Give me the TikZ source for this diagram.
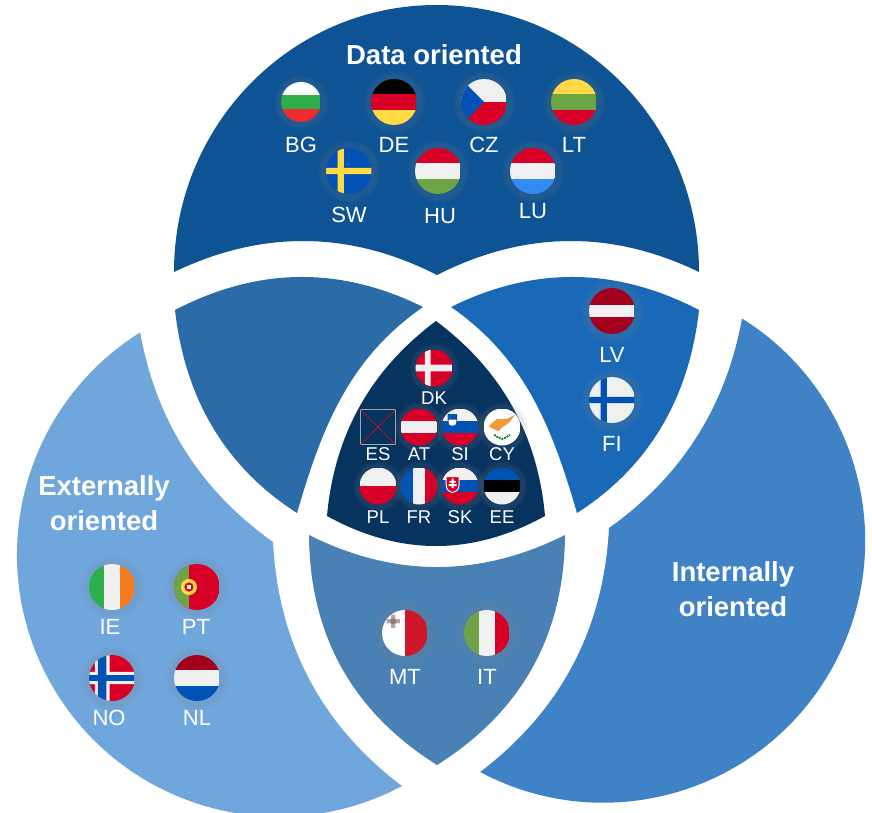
\documentclass[tikz,border=0pt]{standalone}
\usepackage{fontspec}
\setmainfont{Liberation Sans}
\usetikzlibrary{shadows}

\definecolor{topblue}{HTML}{0E5394}
\definecolor{lensleft}{HTML}{2A6BA8}
\definecolor{lensright}{HTML}{1A69B6}
\definecolor{centerblue}{HTML}{07335F}
\definecolor{leftblue}{HTML}{6FA6DC}
\definecolor{rightblue}{HTML}{3F82C6}
\definecolor{lensbottom}{HTML}{4A81B5}
\definecolor{fred}{HTML}{D80027}
\definecolor{fdark}{HTML}{A2001D}
\definecolor{fwhite}{HTML}{F0F0F0}
\definecolor{fblue}{HTML}{0052B4}
\definecolor{fsky}{HTML}{338AF3}
\definecolor{fyellow}{HTML}{FFDA44}
\definecolor{fgreen}{HTML}{6DA544}
\definecolor{bggreen}{HTML}{2DAE4A}
\definecolor{bgred}{HTML}{EE2E2E}
\definecolor{ieorange}{HTML}{F57A20}
\definecolor{mtred}{HTML}{CE1728}
\definecolor{cyorange}{HTML}{F29A3A}

\tikzset{
  flagunit/.style={shift={(path picture bounding box.center)}, x=\flagr, y=-\flagr},
  flagdisc/.style={circle, inner sep=0pt, minimum size=2*#1, /utils/exec={\def\flagr{#1}},
    circular drop shadow={shadow xshift=0pt, shadow yshift=0pt, shadow scale=1.4, opacity=0.16}},
  flagdisc/.default=23pt,
  hbars/.style n args={3}{path picture={\begin{scope}[flagunit]
    \fill[#1] (-1,-1) rectangle (1,-0.33);
    \fill[#2] (-1,-0.33) rectangle (0.97,0.33);
    \fill[#3] (-1,0.33) rectangle (1,1);
    \end{scope}}},
  vbars/.style n args={3}{path picture={\begin{scope}[flagunit]
    \fill[#1] (-1,-1) rectangle (-0.33,1);
    \fill[#2] (-0.33,-1) rectangle (0.33,1);
    \fill[#3] (0.33,-1) rectangle (0.97,1);
    \end{scope}}},
  crossed/.style n args={2}{path picture={\begin{scope}[flagunit]
    \fill[#1] (-1,-1) rectangle (0.97,1);
    \fill[#2] (-0.49,-1) rectangle (-0.22,1) (-1,-0.14) rectangle (0.97,0.14);
    \end{scope}}},
  flaglabel/.style={text=white, inner sep=0pt, font=\fontsize{22}{24}\selectfont},
  smalllabel/.style={text=white, inner sep=0pt, font=\fontsize{18.5}{20}\selectfont},
  titletext/.style={text=white, inner sep=0pt, align=center, font=\fontsize{27.5}{35}\selectfont\bfseries}
}

\begin{document}
\begin{tikzpicture}[x=1pt, y=-1pt]
  \clip (0,0) rectangle (872,813);
  \fill[white] (0,0) rectangle (872,813);

  % the seven regions
  \fill[topblue] (174,272) arc[start angle=180, end angle=360, x radius=262.5, y radius=267]
    .. controls (611.7,229.7) and (524.3,230.7) .. (437,275)
    .. controls (350,230.7) and (262.3,229.7) .. cycle;
  \fill[lensleft] (175,310) .. controls (257.7,267) and (340.3,266) .. (423,307)
    .. controls (349,358.3) and (322,427) .. (297,513)
    .. controls (225.7,467.3) and (185,399) .. cycle;
  \fill[lensright] (699,310) .. controls (616.3,267) and (533.7,266) .. (451,307)
    .. controls (525,358.3) and (552,427) .. (577,513)
    .. controls (648.3,467.3) and (689,399) .. cycle;
  \fill[centerblue] (436,321) .. controls (501.3,369.7) and (537.7,434.7) .. (545,516)
    .. controls (472.3,556) and (399.7,556) .. (327,516)
    .. controls (334.3,434.7) and (370.7,369.7) .. cycle;
  \fill[lensbottom] (309,535) .. controls (394.3,577.7) and (479.7,577.7) .. (565,535)
    .. controls (564.3,635) and (521.7,711.7) .. (437,765)
    .. controls (352.3,711.7) and (309.7,635) .. cycle;
  \fill[leftblue] (402,786) arc[start angle=62, end angle=238, radius=262]
    .. controls (156,420.5) and (200.3,490.3) .. (273,542)
    .. controls (278.3,643.3) and (321.3,725.3) .. cycle;
  \fill[rightblue] (742,318.5) arc[start angle=-58, end angle=118, radius=262]
    .. controls (560.7,710.7) and (603.7,629.3) .. (609,528)
    .. controls (681.7,476.3) and (726,406.3) .. cycle;

  % titles
  \node[titletext] (tdata) at (434,55) {Data oriented};
  \node[titletext] (text) at (104,503) {Externally\\oriented};
  \node[titletext] (tint) at (733,589) {Internally\\oriented};

  % Data oriented
  \node[flagdisc=20pt, hbars={white}{bggreen}{bgred}] (bg) at (301,102) {};
  \node[flagdisc, hbars={black}{fred}{fyellow}] (de) at (394,102) {};
  \node[flagdisc, path picture={\begin{scope}[flagunit]
      \fill[fwhite] (-1,-1) rectangle (0.97,0);
      \fill[fred] (-1,0) rectangle (0.97,1);
      \fill[fblue] (-1,-1) -- (0,0) -- (-1,1) -- cycle;
    \end{scope}}] (cz) at (484,102) {};
  \node[flagdisc, hbars={fyellow}{fgreen}{fred}] (lt) at (574,102) {};
  \node[flagdisc, crossed={fblue}{fyellow}] (sw) at (349,171) {};
  \node[flagdisc, hbars={fred}{fwhite}{fgreen}] (hu) at (438,171) {};
  \node[flagdisc, hbars={fred}{fwhite}{fsky}] (lu) at (533,171) {};
  \node[flaglabel] (lbg) at (301,145) {BG};
  \node[flaglabel] (lde) at (394,145) {DE};
  \node[flaglabel] (lcz) at (484,145) {CZ};
  \node[flaglabel] (llt) at (574,145) {LT};
  \node[flaglabel] (lsw) at (349,215) {SW};
  \node[flaglabel] (lhu) at (440,216) {HU};
  \node[flaglabel] (llu) at (533,211) {LU};

  % Data and internally oriented
  \node[flagdisc, path picture={\begin{scope}[flagunit]
      \fill[fdark] (-1,-1) rectangle (0.97,1);
      \fill[fwhite] (-1,-0.27) rectangle (0.97,0.27);
    \end{scope}}] (lv) at (612,311) {};
  \node[flagdisc, crossed={fwhite}{fblue}] (fi) at (612,400) {};
  \node[flaglabel] (llv) at (612,355) {LV};
  \node[flaglabel] (lfi) at (612,444) {FI};

  % all three
  \node[flagdisc=18.5pt, path picture={\begin{scope}[flagunit]
      \fill[fred] (-1,-1) rectangle (0.97,1);
      \fill[fwhite] (-0.49,-1) rectangle (-0.18,1) (-1,-0.18) rectangle (0.97,0.18);
    \end{scope}}] (dk) at (434,368) {};
  \node[draw=gray!70!white, line width=0.8pt, minimum size=35pt, inner sep=0pt] (es) at (378,427) {};
  \draw[red, line width=0.6pt] (es.north west) -- (es.south east) (es.north east) -- (es.south west);
  \node[flagdisc=18.5pt, hbars={fred}{fwhite}{fred}] (at) at (419,427) {};
  \node[flagdisc=18.5pt, path picture={\begin{scope}[flagunit]
      \fill[fwhite] (-1,-1) rectangle (1,-0.33);
      \fill[fblue] (-1,-0.33) rectangle (0.97,0.33);
      \fill[fred] (-1,0.33) rectangle (1,1);
      \fill[fblue] (-0.67,-0.7) -- (-0.16,-0.7) -- (-0.16,-0.3) .. controls (-0.18,-0.1) .. (-0.41,-0.03) .. controls (-0.65,-0.1) .. (-0.67,-0.3) -- cycle;
      \fill[white] (-0.62,-0.4) -- (-0.2,-0.4) -- (-0.2,-0.28) .. controls (-0.22,-0.12) .. (-0.41,-0.07) .. controls (-0.6,-0.12) .. (-0.62,-0.28) -- cycle;
    \end{scope}}] (si) at (460,427) {};
  \node[flagdisc=18.5pt, path picture={\begin{scope}[flagunit]
      \fill[white] (-1,-1) rectangle (0.97,1);
      \fill[cyorange] (-0.72,-0.04) -- (-0.3,-0.42) -- (0.26,-0.43) -- (0.7,-0.66) -- (0.4,-0.25)
        -- (0.04,0) -- (-0.2,0.23) -- (-0.49,0.09) -- cycle;
      \draw[green!45!black, line width=1.8pt, densely dotted] (-0.42,0.42) .. controls (0,0.72) .. (0.42,0.42);
    \end{scope}}] (cy) at (502,427) {};
  \node[flagdisc=18.5pt, path picture={\begin{scope}[flagunit]
      \fill[fwhite] (-1,-1) rectangle (0.97,0);
      \fill[fred] (-1,0) rectangle (0.97,1);
    \end{scope}}] (pl) at (378,486) {};
  \node[flagdisc=18.5pt, vbars={fblue}{fwhite}{fred}] (fr) at (419,486) {};
  \node[flagdisc=18.5pt, path picture={\begin{scope}[flagunit]
      \fill[fwhite] (-1,-1) rectangle (1,-0.33);
      \fill[fblue] (-1,-0.33) rectangle (0.97,0.33);
      \fill[fred] (-1,0.33) rectangle (1,1);
      \fill[fred, draw=white, line width=0.9pt] (-0.75,-0.5) -- (-0.05,-0.5) -- (-0.05,-0.05) .. controls (-0.1,0.22) .. (-0.4,0.36) .. controls (-0.7,0.22) .. (-0.75,-0.05) -- cycle;
      \fill[white] (-0.45,-0.4) rectangle (-0.35,0.1) (-0.58,-0.28) rectangle (-0.22,-0.18) (-0.62,-0.1) rectangle (-0.18,0);
    \end{scope}}] (sk) at (460,486) {};
  \node[flagdisc=18.5pt, hbars={fblue}{black}{fwhite}] (ee) at (502,486) {};
  \node[smalllabel] (ldk) at (434,398) {DK};
  \node[smalllabel] (les) at (378,454) {ES};
  \node[smalllabel] (lat) at (419,454) {AT};
  \node[smalllabel] (lsi) at (460,454) {SI};
  \node[smalllabel] (lcy) at (502,454) {CY};
  \node[smalllabel] (lpl) at (378,517) {PL};
  \node[smalllabel] (lfr) at (419,517) {FR};
  \node[smalllabel] (lsk) at (460,517) {SK};
  \node[smalllabel] (lee) at (502,517) {EE};

  % Externally oriented
  \node[flagdisc, vbars={bggreen}{fwhite}{ieorange}] (ie) at (112,587) {};
  \node[flagdisc, path picture={\begin{scope}[flagunit]
      \fill[fred] (-1,-1) rectangle (0.97,1);
      \fill[fgreen] (-1,-1) rectangle (-0.35,1);
      \fill[fyellow] (-0.35,0) circle[radius=0.35];
      \fill[fred] (-0.35,0) circle[radius=0.2];
      \fill[white] (-0.42,-0.08) rectangle (-0.28,0.08);
    \end{scope}}] (pt) at (197,587) {};
  \node[flagdisc, path picture={\begin{scope}[flagunit]
      \fill[fred] (-1,-1) rectangle (0.97,1);
      \fill[fwhite] (-0.74,-1) rectangle (-0.1,1) (-1,-0.27) rectangle (0.97,0.27);
      \fill[fblue] (-0.61,-1) rectangle (-0.24,1) (-1,-0.13) rectangle (0.97,0.13);
    \end{scope}}] (no) at (112,678) {};
  \node[flagdisc, hbars={fdark}{fwhite}{fblue}] (nl) at (197,678) {};
  \node[flaglabel] (lie) at (110,627) {IE};
  \node[flaglabel] (lpt) at (196,627) {PT};
  \node[flaglabel] (lno) at (109,718) {NO};
  \node[flaglabel] (lnl) at (197,718) {NL};

  % Externally and internally oriented
  \node[flagdisc, path picture={\begin{scope}[flagunit]
      \fill[white] (-1,-1) rectangle (0,1);
      \fill[mtred] (0,-1) rectangle (0.97,1);
      \fill[mtred!30!gray!60!white] (-0.8,-0.6) rectangle (-0.22,-0.42) (-0.6,-0.8) rectangle (-0.42,-0.22);
      \fill[gray] (-0.51,-0.51) circle[radius=0.13];
    \end{scope}}] (mt) at (405,633) {};
  \node[flagdisc, vbars={fgreen}{fwhite}{fred}] (it) at (487,633) {};
  \node[flaglabel] (lmt) at (405,677) {MT};
  \node[flaglabel] (lit) at (487,677) {IT};
\end{tikzpicture}
\end{document}
